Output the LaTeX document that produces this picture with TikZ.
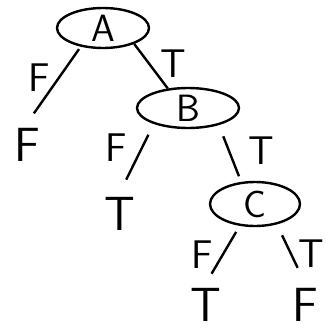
\documentclass[tikz,border=0pt]{standalone}
\usepackage{tikz}
\usetikzlibrary{shapes.geometric}

\tikzset{
  test/.style={ellipse, draw, line width=2.4pt, minimum width=92pt, minimum height=40pt, inner sep=0pt, font=\sffamily\fontsize{38}{38}\selectfont},
  leaf/.style={inner sep=4pt, font=\sffamily\fontsize{48}{48}\selectfont},
  lab/.style={font=\sffamily\fontsize{40}{40}\selectfont, inner sep=2pt}
}

\begin{document}
\begin{tikzpicture}[x=1pt, y=-1pt, line width=2.4pt]
\useasboundingbox (0,0) rectangle (325,331);
% tests
\node[test] (A) at (103,28) {A};
\node[test, minimum width=102pt] (B) at (188,108) {B};
\node[test, minimum width=90pt, minimum height=44pt] (C) at (255,204) {C};
% outcomes
\node[leaf] (fA) at (27,145) {F};
\node[leaf] (tB) at (120,214) {T};
\node[leaf] (tC) at (206,305) {T};
\node[leaf] (fC) at (305,305) {F};
% branches
\draw[shorten <=3pt, shorten >=12pt] (A.220) -- node[lab, pos=.4, left=6pt] {F} (fA.north);
\draw (A.333) -- node[lab, pos=.45, right=8pt] {T} (B.136);
\draw[shorten <=12pt, shorten >=14pt] (B.205) -- node[lab, pos=.35, left=12pt] {F} (tB.north);
\draw[shorten <=12pt, shorten >=6pt] (B.331) -- node[lab, pos=.45, right=16pt] {T} (C.122);
\draw[shorten <=7pt, shorten >=11pt] (C.235) -- node[lab, pos=.5, left=7pt] {F} (tC.north);
\draw[shorten <=12pt, shorten >=17pt] (C.317) -- node[lab, pos=.5, right=4pt] {T} (fC.north);
\end{tikzpicture}
\end{document}
